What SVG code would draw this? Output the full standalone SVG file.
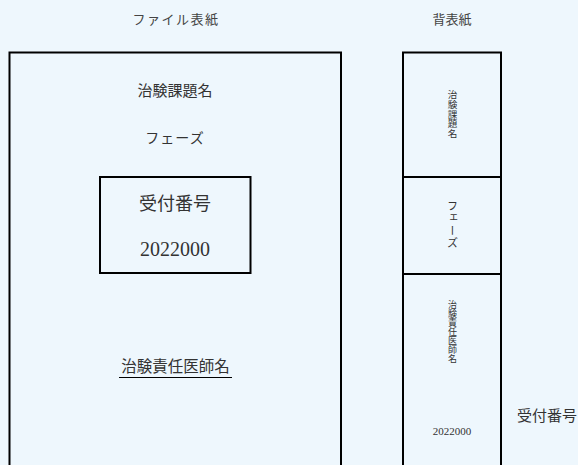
<svg xmlns="http://www.w3.org/2000/svg" width="578" height="465" viewBox="0 0 578 465">
<style>
text{font-family:"Liberation Serif","Noto Sans CJK JP",serif;fill:#333;}
.box{fill:none;stroke:#000;stroke-width:2;}
.title{font-size:13px;text-anchor:middle;fill:#444;}
.mid{text-anchor:middle;}
.vert{font-family:"Noto Sans CJK JP",sans-serif;writing-mode:vertical-rl;text-orientation:upright;text-anchor:start;}
</style>
<rect x="0" y="0" width="578" height="465" fill="#eef7fd"/>
<g id="title-cover"><text class="title" x="176" y="24" letter-spacing="1.5">ファイル表紙</text></g>
<g id="title-spine"><text class="title" x="452" y="24">背表紙</text></g>
<g id="cover">
<rect class="box" x="9.5" y="52.5" width="331.5" height="420"/>
<text class="mid" x="175" y="96" font-size="15">治験課題名</text>
<text class="mid" x="175" y="143" font-size="14" letter-spacing="1">フェーズ</text>
</g>
<g id="receipt-box">
<rect class="box" x="100" y="177" width="150.5" height="96"/>
<text class="mid" x="175" y="210" font-size="18" fill="#222">受付番号</text>
<text class="mid" x="175" y="256" font-size="20" fill="#222">2022000</text>
</g>
<g id="investigator">
<text class="mid" x="175.5" y="372" font-size="15.5">治験責任医師名</text>
<line x1="119" y1="377.5" x2="232" y2="377.5" stroke="#000" stroke-width="1"/>
</g>
<g id="spine-title">
<rect class="box" x="403" y="52.5" width="98" height="124.5"/>
<text class="vert" x="452.5" y="90" font-size="9.6">治験課題名</text>
</g>
<g id="spine-phase">
<rect class="box" x="403" y="177" width="98" height="97"/>
<text class="vert" x="452.5" y="200" font-size="11" letter-spacing="1.5">フェーズ</text>
</g>
<g id="spine-investigator">
<rect class="box" x="403" y="274" width="98" height="200"/>
<text class="vert" x="452.5" y="300" font-size="9">治験責任医師名</text>
<text class="mid" x="452" y="435" font-size="11" fill="#222">2022000</text>
</g>
<g id="receipt-label"><text class="mid" x="547" y="421" font-size="15">受付番号</text></g>
</svg>
